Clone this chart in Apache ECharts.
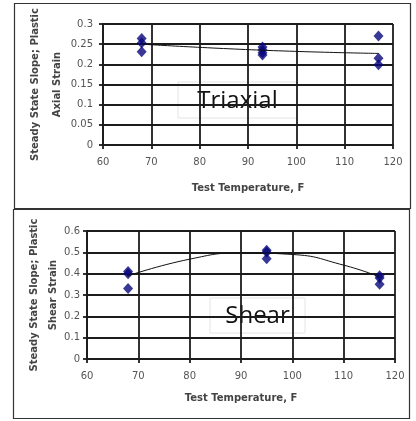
<!DOCTYPE html>
<html lang="en">
  <head>
    <meta charset="UTF-8" />
    <title>Steady State Slope vs Test Temperature</title>
    <style>
      html, body { margin: 0; padding: 0; background: #fff; }
      #container { width: 416px; height: 421px; }
    </style>
    <script src="https://cdn.jsdelivr.net/npm/echarts@6/dist/echarts.min.js"></script>
  </head>
  <body>
    <div id="container"></div>
    <script>
      // triaxial panel
      const triaxialTemps = [68, 68, 68, 93, 93, 93, 93, 117, 117, 117]
      const triaxialValues = [0.264, 0.253, 0.231, 0.243, 0.236, 0.229, 0.223, 0.27, 0.215, 0.199]
      const triaxialTrendTemps = [68, 93, 117]
      const triaxialTrendValues = [0.25, 0.235, 0.227]

      // shear panel
      const shearTemps = [68, 68, 68, 95, 95, 95, 117, 117, 117]
      const shearValues = [0.41, 0.4, 0.33, 0.51, 0.5, 0.47, 0.39, 0.38, 0.35]
      const shearTrendTemps = [68, 80, 90, 100, 110, 117]
      const shearTrendValues = [0.39, 0.468, 0.497, 0.49, 0.44, 0.385]

      const xTicks = { min: 60, max: 120, interval: 10 }
      const triaxialY = { min: 0, max: 0.3, interval: 0.05 }
      const shearY = { min: 0, max: 0.6, interval: 0.1 }

      const pairs = (xs, ys) => xs.map((x, i) => [x, ys[i]])

      const gridColor = '#1c1c1c'
      const labelFont = {
        fontFamily: 'DejaVu Sans',
        fontSize: 10,
        color: '#555',
      }
      const nameFont = {
        fontFamily: 'DejaVu Sans',
        fontSize: 10,
        fontWeight: 'bold',
        color: '#444',
      }

      function valueAxis(idx, range, margin, extra) {
        return Object.assign(
          {
            type: 'value',
            gridIndex: idx,
            min: range.min,
            max: range.max,
            interval: range.interval,
            nameMoveOverlap: false,
            axisLine: { show: true, lineStyle: { color: gridColor, width: 1.8 } },
            axisTick: { show: true, length: 4, lineStyle: { color: gridColor, width: 1.8 } },
            axisLabel: Object.assign({ margin: margin }, labelFont),
            splitLine: { show: true, lineStyle: { color: gridColor, width: 1.8 } },
          },
          extra
        )
      }

      const chart = echarts.init(document.getElementById('container'))

      function textBox(x, y, w, h, text) {
        return {
          type: 'group',
          z: 100,
          children: [
            {
              type: 'rect',
              shape: { x: x, y: y, width: w, height: h },
              style: { fill: '#fff', stroke: '#e4e4e4', lineWidth: 1 },
            },
            {
              type: 'text',
              x: x + w / 2,
              y: y + h / 2 + 1,
              style: {
                text: text,
                font: '24px "Open Sans"',
                fill: '#111',
                align: 'center',
                verticalAlign: 'middle',
              },
            },
          ],
        }
      }

      chart.setOption({
        backgroundColor: '#fff',
        animation: false,
        grid: [
          { left: 103, top: 24, width: 290, height: 121 },
          { left: 87, top: 231, width: 308, height: 128 },
        ],
        xAxis: [
          valueAxis(0, xTicks, 12, {
            name: 'Test Temperature, F',
            nameLocation: 'middle',
            nameGap: 38,
            nameTextStyle: nameFont,
          }),
          valueAxis(1, xTicks, 12, {
            name: 'Test Temperature, F',
            nameLocation: 'middle',
            nameGap: 34,
            nameTextStyle: nameFont,
          }),
        ],
        yAxis: [
          valueAxis(0, triaxialY, 10, {
            name: 'Steady State Slope; Plastic\nAxial Strain',
            nameLocation: 'middle',
            nameGap: 35,
            nameTextStyle: Object.assign({ lineHeight: 22 }, nameFont),
          }),
          valueAxis(1, shearY, 7, {
            name: 'Steady State Slope; Plastic\nShear Strain',
            nameLocation: 'middle',
            nameGap: 24,
            nameTextStyle: Object.assign({ lineHeight: 19 }, nameFont),
          }),
        ],
        series: [
          {
            type: 'line',
            xAxisIndex: 0,
            yAxisIndex: 0,
            data: pairs(triaxialTrendTemps, triaxialTrendValues),
            smooth: true,
            showSymbol: false,
            lineStyle: { color: '#111', width: 1 },
          },
          {
            type: 'scatter',
            xAxisIndex: 0,
            yAxisIndex: 0,
            data: pairs(triaxialTemps, triaxialValues),
            symbol: 'diamond',
            symbolSize: [10, 11],
            itemStyle: { color: '#08087a' },
          },
          {
            type: 'line',
            xAxisIndex: 1,
            yAxisIndex: 1,
            data: pairs(shearTrendTemps, shearTrendValues),
            smooth: true,
            showSymbol: false,
            lineStyle: { color: '#111', width: 1 },
          },
          {
            type: 'scatter',
            xAxisIndex: 1,
            yAxisIndex: 1,
            data: pairs(shearTemps, shearValues),
            symbol: 'diamond',
            symbolSize: [10, 11],
            itemStyle: { color: '#08087a' },
          },
        ],
        graphic: {
          elements: [
            {
              type: 'rect',
              z: 90,
              shape: { x: 14.5, y: 3.5, width: 396, height: 205 },
              style: { fill: 'none', stroke: '#333', lineWidth: 1.2 },
            },
            {
              type: 'rect',
              z: 90,
              shape: { x: 13.5, y: 209.5, width: 396, height: 209 },
              style: { fill: 'none', stroke: '#333', lineWidth: 1.2 },
            },
            textBox(178, 82, 119, 36, 'Triaxial'),
            textBox(210, 298, 95, 35, 'Shear'),
          ],
        },
      })
    </script>
  </body>
</html>
